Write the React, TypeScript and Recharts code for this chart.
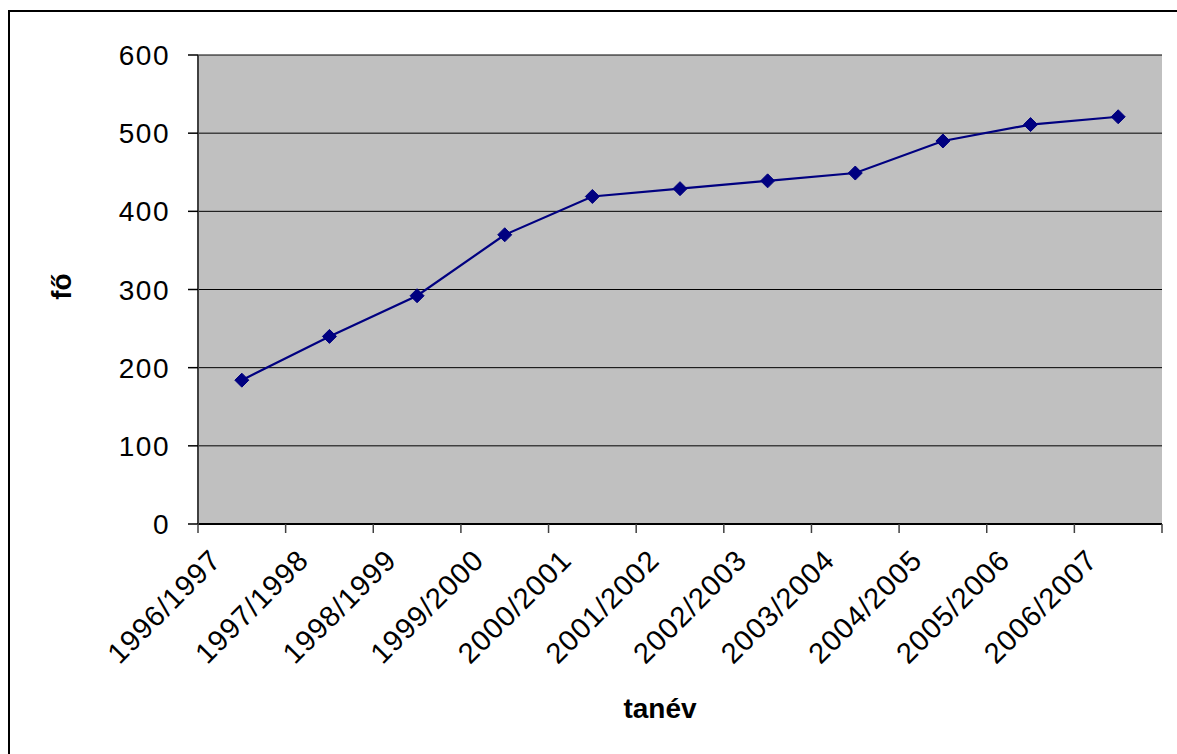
import React from 'react';
import {
  LineChart,
  Line,
  XAxis,
  YAxis,
  CartesianGrid,
  ReferenceArea,
  Label,
} from 'recharts';

const categories = [
  '1996/1997',
  '1997/1998',
  '1998/1999',
  '1999/2000',
  '2000/2001',
  '2001/2002',
  '2002/2003',
  '2003/2004',
  '2004/2005',
  '2005/2006',
  '2006/2007',
];
const students = [184, 240, 292, 370, 419, 429, 439, 449, 490, 511, 521];
const yTicks = [0, 100, 200, 300, 400, 500, 600];

const data = categories.map((c, i) => ({ tanev: c, fo: students[i] }));

const FONT = '"Liberation Sans", Arial, sans-serif';

const XTick = (props: any) => {
  const { x, y, payload, index, visibleTicksCount } = props;
  const half = payload && payload.offset ? payload.offset : 0;
  const isLast = index === visibleTicksCount - 1;
  return (
    <g>
      <line
        x1={x - half}
        x2={x - half}
        y1={y}
        y2={y + 9}
        stroke="#404040"
        strokeWidth={1.5}
      />
      {isLast && (
        <line
          x1={x + half}
          x2={x + half}
          y1={y}
          y2={y + 9}
          stroke="#404040"
          strokeWidth={1.5}
        />
      )}
      <g transform={`translate(${x - 19},${y + 38}) rotate(-45)`}>
        <text
          x={0}
          y={0}
          textAnchor="end"
          fontSize={29}
          letterSpacing={1}
          fontFamily={FONT}
          fill="#000"
        >
          {payload.value}
        </text>
      </g>
    </g>
  );
};

const YTick = (props: any) => {
  const { x, y, payload } = props;
  return (
    <text
      x={x}
      y={y}
      dy={10}
      textAnchor="end"
      fontSize={28}
      letterSpacing={1.5}
      fontFamily={FONT}
      fill="#000"
    >
      {payload.value}
    </text>
  );
};

const Diamond = (props: any) => {
  const { cx, cy } = props;
  if (cx == null || cy == null) return null;
  const r = 7;
  return (
    <path
      d={`M${cx},${cy - r}L${cx + r},${cy}L${cx},${cy + r}L${cx - r},${cy}Z`}
      fill="#000080"
      stroke="#000080"
      strokeWidth={1}
    />
  );
};

export default function App() {
  return (
    <div
      style={{
        position: 'absolute',
        left: 0,
        top: 0,
        width: 1177,
        height: 754,
        overflow: 'hidden',
        background: '#fff',
      }}
    >
      <div
        style={{
          position: 'absolute',
          left: 8,
          top: 10,
          width: 1300,
          height: 900,
          borderLeft: '2px solid #000',
          borderTop: '2px solid #000',
        }}
      />
      <div style={{ position: 'absolute', left: 0, top: 0 }}>
        <LineChart
          width={1177}
          height={754}
          data={data}
          margin={{ top: 55, right: 15, left: 0, bottom: 0 }}
        >
          <CartesianGrid
            vertical={false}
            stroke="#000"
            strokeWidth={1}
            fill="#C0C0C0"
            fillOpacity={1}
          />
          <XAxis
            dataKey="tanev"
            type="category"
            scale="band"
            height={230}
            tickSize={0}
            tickMargin={0}
            tickLine={false}
            axisLine={{ stroke: '#000', strokeWidth: 2 }}
            interval={0}
            tick={<XTick />}
          >
            <Label
              content={(p: any) => {
                const vb = p.viewBox;
                return (
                  <text
                    x={vb.x + vb.width / 2 - 20}
                    y={vb.y + 194}
                    textAnchor="middle"
                    fontSize={28}
                    fontWeight="bold"
                    fontFamily={FONT}
                    fill="#000"
                  >
                    tanév
                  </text>
                );
              }}
            />
          </XAxis>
          <YAxis
            type="number"
            domain={[0, 600]}
            ticks={yTicks}
            interval={0}
            width={198}
            tickSize={10}
            tickMargin={18}
            tick={<YTick />}
            tickLine={{ stroke: '#000', strokeWidth: 1.5 }}
            axisLine={{ stroke: '#404040', strokeWidth: 2 }}
          >
            <Label
              content={(p: any) => {
                const vb = p.viewBox;
                const cx = 61;
                const cy = vb.y + vb.height / 2 - 3;
                return (
                  <text
                    x={cx}
                    y={cy}
                    transform={`rotate(-90 ${cx} ${cy})`}
                    textAnchor="middle"
                    dominantBaseline="central"
                    fontSize={28}
                    fontWeight="bold"
                    fontFamily={FONT}
                    fill="#000"
                  >
                    fő
                  </text>
                );
              }}
            />
          </YAxis>
          <ReferenceArea
            x1={categories[0]}
            x2={categories[categories.length - 1]}
            y1={0}
            y2={600}
            shape={(p: any) => {
              const { y, height, xAxis } = p;
              const x0 = xAxis ? xAxis.x : p.x;
              const w = xAxis ? xAxis.width : p.width;
              return (
                <rect
                  x={x0}
                  y={y}
                  width={w}
                  height={height}
                  fill="none"
                  stroke="#808080"
                  strokeWidth={2}
                />
              );
            }}
          />
          <Line
            type="linear"
            dataKey="fo"
            stroke="#000080"
            strokeWidth={2.2}
            dot={<Diamond />}
            activeDot={false}
            isAnimationActive={false}
          />
        </LineChart>
      </div>
    </div>
  );
}
